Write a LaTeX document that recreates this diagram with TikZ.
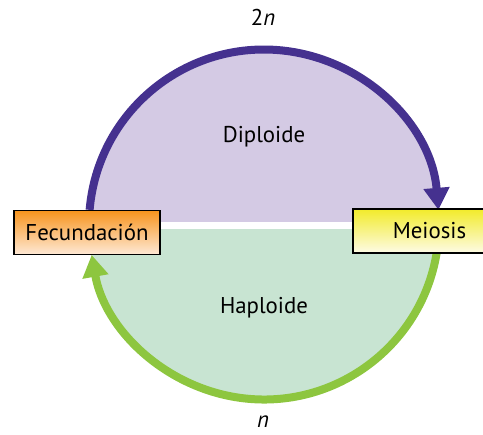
\documentclass[tikz,border=0pt]{standalone}
\usepackage{fontspec}
\setmainfont{PT Sans}
\usepackage{tikz}
\usetikzlibrary{arrows.meta, calc}

\definecolor{dipline}{HTML}{45318F}
\definecolor{dipfill}{HTML}{D4CAE4}
\definecolor{haploline}{HTML}{8DC63F}
\definecolor{haplofill}{HTML}{C8E4D2}
\definecolor{fecorange}{HTML}{F7941D}
\definecolor{fecpale}{HTML}{FEE9D6}
\definecolor{meiyellow}{HTML}{F2EB2A}
\definecolor{meipale}{HTML}{FDFBE6}

\begin{document}
\begin{tikzpicture}[x=0.02cm, y=0.02cm,
    stagebox/.style={draw=black, line width=0.9pt, minimum height=0.88cm,
        font=\fontsize{13}{15}\selectfont, inner sep=0pt},
    cycletip/.style={-{Triangle[length=0.44cm, width=0.5cm]}},
    ploidy/.style={font=\fontsize{13}{15}\selectfont, inner sep=1pt}]
        \useasboundingbox (0, 0) rectangle (483, 434);

        % --- Centre of the cycle ---
        \coordinate (c) at (264, 209.5);

        % --- Halves ---
        \fill[dipfill] (c) ++(0:175) arc[start angle=0, end angle=180, radius=175] -- cycle;
        \fill[haplofill] (c) ++(180:175) arc[start angle=180, end angle=360, radius=175] -- cycle;
        \fill[white] (85, 205) rectangle (443, 212);

        \node[ploidy] (dip) at (264, 297) {Diploide};
        \node[ploidy] (hap) at (264, 126) {Haploide};

        % --- Arcs ---
        \coordinate (dipstart) at ($(c) + (175.2:175)$);
        \coordinate (hapstart) at ($(c) + (-9.4:175)$);
        \draw[dipline, line width=0.16cm, cycletip] (dipstart)
            arc[start angle=175.2, end angle=4.8, radius=175];
        \draw[haploline, line width=0.16cm, cycletip] (hapstart)
            arc[start angle=-9.4, end angle=-170, radius=175];

        % --- Stages ---
        \node[stagebox, minimum width=2.92cm, top color=fecorange, bottom color=fecpale]
            (fec) at (87, 201.5) {Fecundación};
        \node[stagebox, minimum width=3.06cm, top color=meiyellow, bottom color=meipale]
            (mei) at (429.5, 203) {Meiosis};

        % --- Ploidy labels ---
        \node[ploidy] (two) at (263, 417) {2\textit{n}};
        \node[ploidy] (one) at (263, 12) {\textit{n}};

    \end{tikzpicture}
\end{document}
